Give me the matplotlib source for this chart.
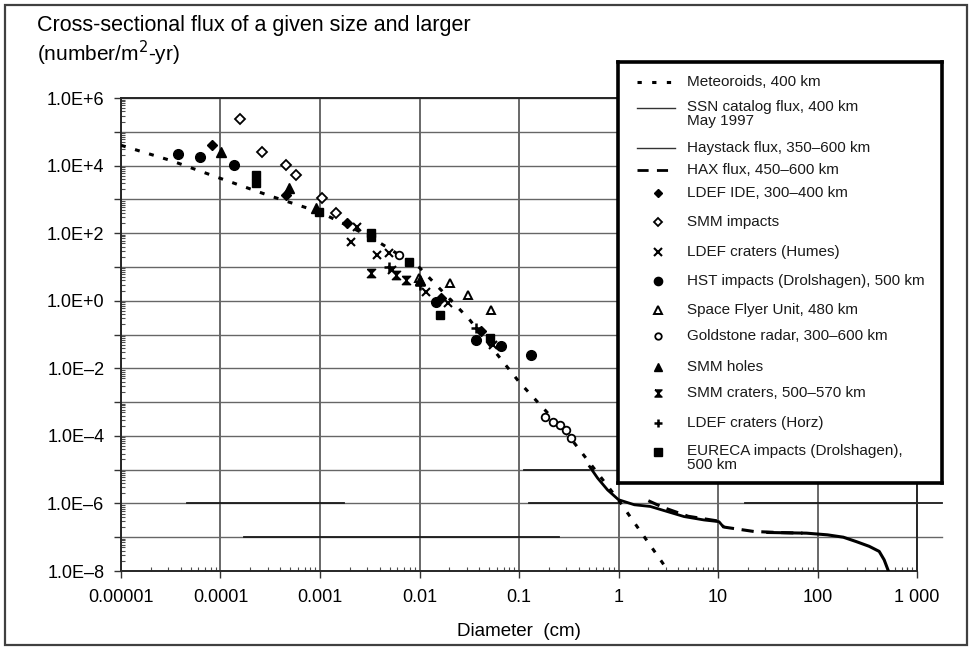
import matplotlib
matplotlib.use("Agg")
import matplotlib.pyplot as plt
import numpy as np
from matplotlib.patches import Rectangle
from matplotlib.ticker import FixedLocator, FixedFormatter, LogLocator, NullFormatter

plt.rcParams["font.family"] = ["Liberation Sans", "DejaVu Sans"]

# ---- data (log10 of diameter in cm, log10 of flux in number/m^2-yr) ----
met_logd = [-5.0, -4.5, -4.0, -3.5, -3.0, -2.5, -2.0, -1.5, -1.0, -0.5, 0.0, 0.5]
met_logf = [4.6, 4.15, 3.62, 3.1, 2.62, 1.9, 0.98, -0.55, -2.4, -4.0, -5.9, -8.0]

hay_logd = [-0.29, -0.21, -0.11, 0.0, 0.16, 0.32, 0.49, 0.66, 0.86, 1.01, 1.05]
hay_logf = [-4.91, -5.25, -5.6, -5.89, -6.04, -6.09, -6.24, -6.39, -6.49, -6.54, -6.68]

hax_logd = [0.3, 0.45, 0.7, 1.0, 1.06, 1.36, 1.6, 1.85]
hax_logf = [-5.92, -6.12, -6.38, -6.52, -6.7, -6.83, -6.86, -6.88]

ssn_logd = [1.5, 1.89, 2.1, 2.26, 2.39, 2.52, 2.62, 2.67, 2.71]
ssn_logf = [-6.86, -6.88, -6.93, -7.0, -7.13, -7.27, -7.42, -7.67, -7.98]

ldef_ide_d = [-4.09, -3.34, -2.73, -1.78, -1.38]
ldef_ide_f = [4.61, 3.13, 2.29, 0.07, -0.91]
smm_imp_d = [-3.80, -3.58, -3.34, -3.24, -2.98, -2.84]
smm_imp_f = [5.38, 4.41, 4.02, 3.72, 3.03, 2.59]
humes_d = [-2.63, -2.69, -2.43, -2.31, -2.28, -1.93, -1.71, -1.26]
humes_f = [2.19, 1.75, 1.36, 1.41, 0.91, 0.27, -0.07, -1.31]
hst_d = [-4.43, -4.21, -3.86, -1.83, -1.43, -1.18, -0.88]
hst_f = [4.33, 4.25, 4.02, -0.03, -1.16, -1.34, -1.60]
sfu_d = [-2.01, -1.69, -1.51, -1.28]
sfu_f = [0.67, 0.52, 0.17, -0.27]
gold_d = [-2.21, -0.74, -0.66, -0.59, -0.53, -0.48]
gold_f = [1.36, -3.43, -3.58, -3.67, -3.82, -4.07]
smm_hole_d = [-3.99, -3.31, -3.04, -1.99]
smm_hole_f = [4.41, 3.33, 2.74, 0.62]
smm_cr_d = [-2.49, -2.24, -2.14]
smm_cr_f = [0.83, 0.76, 0.62]
horz_d = [-2.31, -1.99, -1.43]
horz_f = [1.01, 0.47, -0.81]
eureca_d = [-3.64, -3.64, -3.01, -2.49, -2.49, -2.11, -1.79, -1.29]
eureca_f = [3.72, 3.48, 2.64, 2.0, 1.9, 1.16, -0.42, -1.11]

# darker stretches of the 1E-5 / 1E-6 / 1E-7 rules (log y, log x start, log x end)
dark_rules = [(-5, -0.95, -0.3), (-6, -4.34, -2.76), (-6, -0.9, 0.0), (-6, 1.27, 3.25),
              (-7, -3.76, -0.6)]
light_rules = [(-7, 3.0, 3.25)]   # the 1E-7 rule runs on past the right edge

xtick_exp = list(range(-5, 4))
xtick_labels = ["0.00001", "0.0001", "0.001", "0.01", "0.1", "1", "10", "100", "1 000"]
ytick_exp = list(range(-8, 7))
ytick_labels = ["1.0E\u20138", "", "1.0E\u20136", "", "1.0E\u20134", "", "1.0E\u20132", "",
                "1.0E+0", "", "1.0E+2", "", "1.0E+4", "", "1.0E+6"]


def p(a):
    return np.power(10.0, np.asarray(a, dtype=float))


hourglass = [(-1, 1), (1, 1), (-1, -1), (1, -1), (-1, 1)]

markers = [
    ("LDEF IDE, 300\u2013400 km", ldef_ide_d, ldef_ide_f, dict(marker="D", ms=5, mfc="k", mec="k")),
    ("SMM impacts", smm_imp_d, smm_imp_f, dict(marker="D", ms=5, mfc="white", mec="k", mew=1.3)),
    ("LDEF craters (Humes)", humes_d, humes_f, dict(marker="x", ms=6, mec="k", mew=1.5)),
    ("HST impacts (Drolshagen), 500 km", hst_d, hst_f, dict(marker="o", ms=7, mfc="k", mec="k")),
    ("Space Flyer Unit, 480 km", sfu_d, sfu_f, dict(marker="^", ms=6, mfc="white", mec="k", mew=1.4)),
    ("Goldstone radar, 300\u2013600 km", gold_d, gold_f, dict(marker="o", ms=5.5, mfc="white", mec="k", mew=1.3)),
    ("SMM holes", smm_hole_d, smm_hole_f, dict(marker="^", ms=7, mfc="k", mec="k")),
    ("SMM craters, 500\u2013570 km", smm_cr_d, smm_cr_f, dict(marker=hourglass, ms=6, mfc="k", mec="k")),
    ("LDEF craters (Horz)", horz_d, horz_f, dict(marker="+", ms=7, mec="k", mew=1.8)),
    ("EURECA impacts (Drolshagen),\n500 km", eureca_d, eureca_f, dict(marker="s", ms=6, mfc="k", mec="k")),
]

W, H = 975, 650
fig = plt.figure(figsize=(W / 100, H / 100), dpi=100)
fig.patches.append(Rectangle((5 / W, 5 / H), 962 / W, 640 / H, transform=fig.transFigure,
                             fill=False, lw=1.6, ec="0.25"))

ax = fig.add_axes([121 / W, 1 - 571 / H, 796 / W, 473 / H])
ax.set_xscale("log")
ax.set_yscale("log")
ax.set_xlim(1e-5, 1e3)
ax.set_ylim(1e-8, 1e6)

ax.xaxis.set_major_locator(FixedLocator(p(xtick_exp)))
ax.xaxis.set_major_formatter(FixedFormatter(xtick_labels))
ax.yaxis.set_major_locator(FixedLocator(p(ytick_exp)))
ax.yaxis.set_major_formatter(FixedFormatter(ytick_labels))
ax.xaxis.set_minor_locator(LogLocator(base=10, subs=np.arange(2, 10), numticks=100))
ax.yaxis.set_minor_locator(LogLocator(base=10, subs=np.arange(2, 10), numticks=100))
ax.xaxis.set_minor_formatter(NullFormatter())
ax.yaxis.set_minor_formatter(NullFormatter())
ax.tick_params(which="major", direction="out", length=5, width=1.0, color="0.2",
               labelsize=13)
ax.tick_params(which="minor", direction="in", length=3, width=0.8, color="0.3")
ax.tick_params(axis="x", which="major", pad=8)
ax.tick_params(axis="y", which="major", pad=7)

ax.grid(True, axis="x", which="major", color="0.25", lw=1.1)
ax.grid(True, axis="y", which="major", color="0.4", lw=1.0)
for sp in ax.spines.values():
    sp.set_linewidth(1.4)
    sp.set_color("0.15")

for ly, x0, x1 in dark_rules:
    ax.plot(p([x0, x1]), p([ly, ly]), color="0.1", lw=1.3, zorder=2, clip_on=False)
for ly, x0, x1 in light_rules:
    ax.plot(p([x0, x1]), p([ly, ly]), color="0.4", lw=1.0, zorder=2, clip_on=False)

ax.plot(p(met_logd), p(met_logf), color="k", lw=2.2, ls=(0, (1.6, 3.2)), zorder=3)
ax.plot(p(hay_logd), p(hay_logf), color="k", lw=2.0, zorder=3)
ax.plot(p(hax_logd), p(hax_logf), color="k", lw=2.2, ls=(0, (4, 2.5)), zorder=3)
ax.plot(p(ssn_logd), p(ssn_logf), color="k", lw=2.2, zorder=3)

for name, d, f, st in markers:
    ax.plot(p(d), p(f), ls="none", zorder=4, **st)

ax.set_xlabel("Diameter  (cm)", fontsize=13.5, labelpad=12)

fig.text(37 / W, 1 - 15 / H, "Cross-sectional flux of a given size and larger", fontsize=15.5,
         va="top", ha="left")
fig.text(37 / W, 1 - 39 / H, "(number/m$^2$-yr)", fontsize=15, va="top", ha="left")

# ---- legend box drawn in its own pixel-unit axes ----
lx0, ly0, lx1, ly1 = 618, 62, 942, 483
lg = fig.add_axes([lx0 / W, 1 - ly1 / H, (lx1 - lx0) / W, (ly1 - ly0) / H])
lg.set_xlim(0, lx1 - lx0)
lg.set_ylim(ly1 - ly0, 0)
lg.set_xticks([])
lg.set_yticks([])
lg.set_facecolor("white")
for sp in lg.spines.values():
    sp.set_linewidth(2.6)
    sp.set_color("k")

line_rows = [
    ("Meteoroids, 400 km", 20, dict(color="k", lw=2.2, ls=(0, (1.4, 3.4)))),
    ("SSN catalog flux, 400 km\nMay 1997", 46, dict(color="0.2", lw=1.0)),
    ("Haystack flux, 350\u2013600 km", 86, dict(color="0.2", lw=1.0)),
    ("HAX flux, 450\u2013600 km", 108, dict(color="k", lw=2.0, ls=(0, (4, 3)))),
]
for label, y, st in line_rows:
    lg.plot([19, 57], [y, y], **st)
    two = "\n" in label
    lg.text(69, y - (8 if two else 0), label, fontsize=11, va="top" if two else "center",
            ha="left", color="0.1", linespacing=1.0)

marker_y = [131, 160, 190, 219, 248, 274, 305, 331, 361, 390]
for (label, _, _, st), y in zip(markers, marker_y):
    s = dict(st)
    s["ms"] = s.get("ms", 6) * 0.85
    lg.plot([40], [y], ls="none", **s)
    two = "\n" in label
    lg.text(69, y - (8 if two else 0), label, fontsize=11, va="top" if two else "center",
            ha="left", color="0.1", linespacing=1.0)

fig.savefig("out.png", dpi=100)
